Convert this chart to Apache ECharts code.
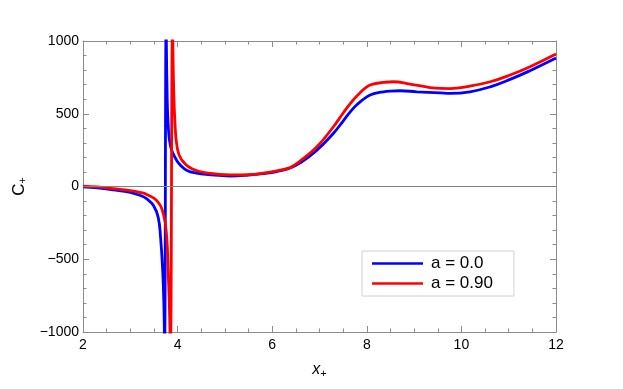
<!DOCTYPE html>
<html>
<head>
<meta charset="utf-8">
<script src="https://cdn.jsdelivr.net/npm/echarts@6/dist/echarts.min.js"></script>
<style>
html,body{margin:0;padding:0;background:#fff;}
#chart{width:623px;height:389px;}
</style>
</head>
<body>
<div id="chart"></div>
<script>
// a = 0.0 (blue)
var xBlue = [2.0, 2.3, 2.64, 3.0, 3.2, 3.35, 3.49, 3.59, 3.64, 3.685, 3.71, 3.725,
  3.758, 3.775, 3.80, 3.855, 3.98, 4.05, 4.2, 4.4, 4.65, 5.11, 5.5, 5.81, 6.1, 6.38,
  6.59, 6.94, 7.29, 7.5, 7.65, 7.8, 8.0, 8.15, 8.35, 8.5, 8.7, 9.06, 9.55, 9.76, 10.18, 10.61, 11.03, 11.45, 12.0];
var yBlue = [-3, -10, -23, -40, -60, -85, -131, -212, -350, -580, -807, -1100,
  1100, 700, 433, 271, 179, 150, 110, 92, 82, 72, 78, 88, 103, 127,
  162, 248, 364, 450, 513, 565, 616, 638, 651, 656, 658, 651, 644, 640, 651, 685, 736, 796, 883];
// a = 0.90 (red)
var xRed = [2.0, 2.3, 2.64, 3.0, 3.2, 3.35, 3.56, 3.70, 3.77, 3.80, 3.825, 3.848,
  3.893, 3.915, 3.945, 3.99, 4.08, 4.3, 4.65, 5.11, 5.5, 5.81, 6.1, 6.38,
  6.59, 6.94, 7.29, 7.5, 7.65, 7.8, 8.0, 8.15, 8.35, 8.56, 8.91, 9.34, 9.55, 9.76, 10.18, 10.61, 11.03, 11.45, 12.0];
var yRed = [3, -3, -15, -28, -40, -55, -97, -189, -350, -580, -807, -1100,
  1100, 700, 433, 271, 185, 122, 92, 80, 82, 92, 108, 130,
  175, 271, 409, 505, 570, 625, 685, 705, 715, 720, 704, 680, 674, 673, 690, 720, 766, 823, 910];
var seriesNames = ['a = 0.0', 'a = 0.90'];
var xTicks = {min: 2, max: 12, interval: 2};
var yTicks = {min: -1000, max: 1000, interval: 500};

function pairs(xs, ys) { return xs.map(function (x, i) { return [x, ys[i]]; }); }

var FONT = 'Liberation Sans, Arial, sans-serif';
var frameColor = '#8c8c8c';
function axisBase(show, splitNum) {
  return {
    axisLine: {show: true, onZero: false, lineStyle: {color: frameColor, width: 1}},
    axisTick: {show: true, inside: true, length: 6, lineStyle: {color: frameColor, width: 1}},
    minorTick: {show: true, splitNumber: splitNum, length: 3.5, lineStyle: {color: frameColor, width: 1}},
    splitLine: {show: false},
    minorSplitLine: {show: false},
    axisLabel: {show: show, color: '#000', fontSize: 14, fontFamily: FONT}
  };
}

var xBottom = Object.assign(axisBase(true, 4), {
  type: 'value', position: 'bottom', min: xTicks.min, max: xTicks.max, interval: xTicks.interval,
  name: '{i|x}{s|+}', nameLocation: 'middle', nameGap: 29,
  nameTextStyle: {rich: {
    i: {fontSize: 16, fontStyle: 'italic', fontFamily: FONT, color: '#000', lineHeight: 18, verticalAlign: 'middle'},
    s: {fontSize: 11, fontFamily: FONT, color: '#000', lineHeight: 8, verticalAlign: 'bottom'}
  }}
});
xBottom.axisLabel.margin = 6;
var xTop = Object.assign(axisBase(false, 4), {
  type: 'value', position: 'top', min: xTicks.min, max: xTicks.max, interval: xTicks.interval
});

var yLeft = Object.assign(axisBase(true, 5), {
  type: 'value', position: 'left', min: yTicks.min, max: yTicks.max, interval: yTicks.interval,
  name: '{c|C}{s|+}', nameLocation: 'middle', nameGap: 54, nameRotate: 90,
  nameTextStyle: {rich: {
    c: {fontSize: 17, fontFamily: FONT, color: '#000', lineHeight: 18, verticalAlign: 'middle'},
    s: {fontSize: 11, fontFamily: FONT, color: '#000', lineHeight: 8, verticalAlign: 'bottom'}
  }}
});
yLeft.axisLabel.margin = 4;
yLeft.axisLabel.formatter = function (v) { return String(v).replace('-', '\u2212'); };
var yRight = Object.assign(axisBase(false, 5), {
  type: 'value', position: 'right', min: yTicks.min, max: yTicks.max, interval: yTicks.interval
});

var chart = echarts.init(document.getElementById('chart'), null, {renderer: 'canvas'});
chart.setOption({
  animation: false,
  backgroundColor: '#fff',
  grid: {left: 83, right: 67, top: 41, bottom: 57, containLabel: false},
  xAxis: [xBottom, xTop],
  yAxis: [yLeft, yRight],
  legend: {
    data: seriesNames,
    orient: 'vertical', left: 362, top: 251,
    padding: [4, 21, 4, 10], itemGap: 3,
    backgroundColor: '#fff', borderColor: '#d0d0d0', borderWidth: 1,
    icon: 'rect', itemWidth: 51, itemHeight: 2.5,
    textStyle: {fontSize: 17, color: '#000', fontFamily: FONT, lineHeight: 17, padding: [0, 0, 0, 3]}
  },
  series: [
    {
      name: 'zero', type: 'line', data: [], silent: true,
      markLine: {silent: true, symbol: 'none', label: {show: false},
        lineStyle: {color: '#808080', width: 1, type: 'solid'},
        data: [{yAxis: 0}]}
    },
    {
      name: seriesNames[0], type: 'line', data: pairs(xBlue, yBlue),
      showSymbol: false, smooth: 0.45, clip: true,
      lineStyle: {color: '#0000ff', width: 2.8}, itemStyle: {color: '#0000ff'}
    },
    {
      name: seriesNames[1], type: 'line', data: pairs(xRed, yRed),
      showSymbol: false, smooth: 0.45, clip: true,
      lineStyle: {color: '#ff0000', width: 2.8}, itemStyle: {color: '#ff0000'}
    }
  ]
});
</script>
</body>
</html>
